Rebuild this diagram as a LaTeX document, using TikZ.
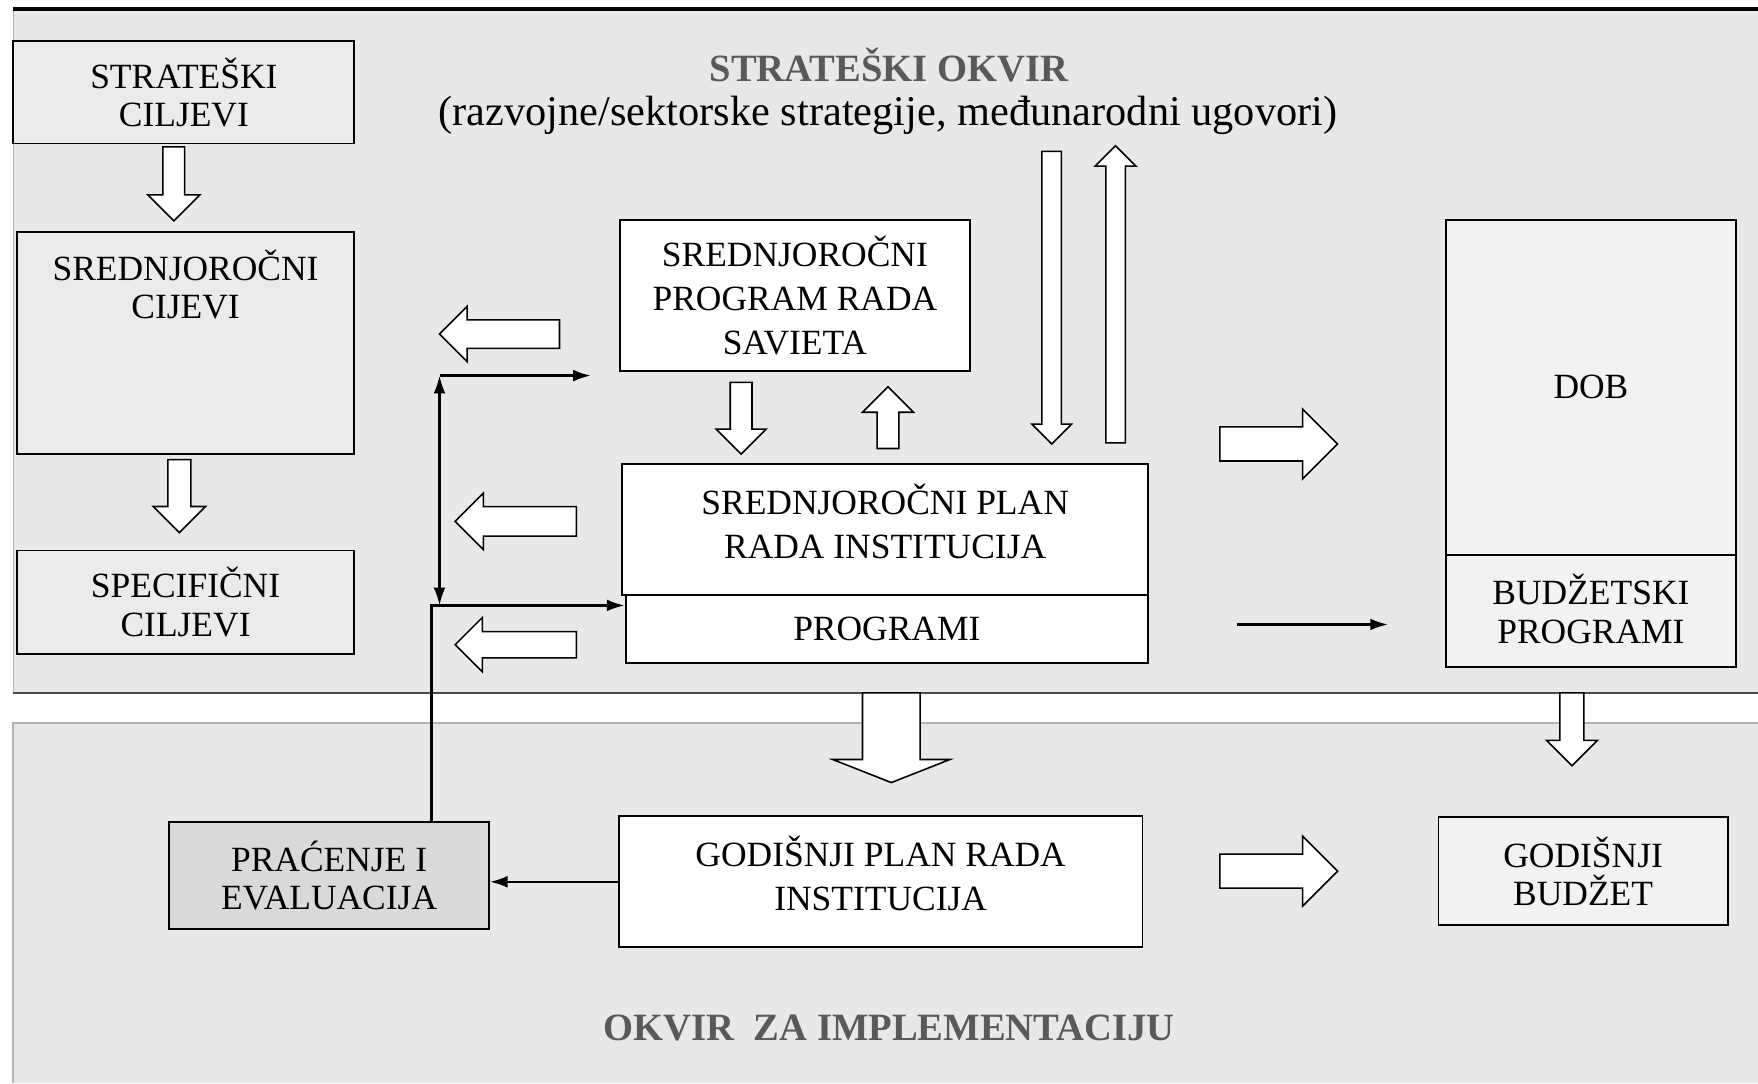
\documentclass[tikz,border=0pt]{standalone}
\usepackage{fontspec}
\setmainfont{Liberation Serif}
\usepackage{tikz}
\usetikzlibrary{shapes.arrows,arrows.meta}
\definecolor{panelgray}{gray}{0.91}
\definecolor{boxgray}{gray}{0.92}
\definecolor{lightbox}{gray}{0.95}
\definecolor{darkbox}{gray}{0.85}
\definecolor{titlegray}{gray}{0.35}
\newcommand{\boxfont}{\fontsize{18}{19.5}\selectfont}
\newcommand{\wboxfont}{\fontsize{18}{22.5}\selectfont}
\newcommand{\titlefont}{\fontsize{19.6}{22}\selectfont\bfseries}
\newcommand{\subfont}{\fontsize{21.5}{24}\selectfont}
\tikzset{
  box/.style={draw=black, line width=1pt, inner sep=0pt, align=center, font=\boxfont},
  wbox/.style={box, fill=white, font=\wboxfont},
  bw/.style={minimum width={#1*0.2mm}},
  bh/.style={minimum height={#1*0.2mm}},
  hollow/.style n args={3}{single arrow, draw=black, fill=white, line width=0.8pt,
    inner xsep=0pt, inner ysep={#1*0.1mm}, single arrow head extend={(#2-#1)*0.1mm},
    minimum height={#3*0.2mm}, outer sep=0pt, anchor=tip},
  fbline/.style={line width=1.2pt},
}

\begin{document}
\begin{tikzpicture}[x=0.2mm, y=-0.2mm, >={Latex[length=9pt,width=6pt]}]
        \useasboundingbox (0,0) rectangle (1568,966);

        % panels
        \fill[panelgray] (12,8) rectangle (1568,618);
        \fill[panelgray] (12,645) rectangle (1568,966);
        \draw[gray!60] (12,8) -- (12,618);
        \draw[black!70, line width=1.1pt] (12,618) -- (1568,618);
        \draw[black, line width=1.7pt] (12,8) -- (1568,8);
        \draw[gray!60, line width=1pt] (1568,645) -- (12,645) -- (12,966);

        \node[font=\titlefont, text=titlegray, inner sep=0pt] (strokvir) at (793,58) {STRATEŠKI OKVIR};
        \node[font=\subfont, inner sep=0pt] (strsub) at (792,103) {(razvojne/sektorske strategije, međunarodni ugovori)};
        \node[font=\titlefont, text=titlegray, inner sep=0pt] (implokvir) at (793,917) {OKVIR\ \ ZA IMPLEMENTACIJU};

        % boxes
        \node[box, fill=boxgray, bw=304, bh=91] (stratcilj) at (164,82.5) {STRATEŠKI\\CILJEVI};
        \node[box, fill=boxgray, bw=301, bh=198] (srcilj) at (165.5,306) {};
        \node[font=\boxfont, align=center] (srciljtxt) at (165.5,254) {SREDNJOROČNI\\CIJEVI};
        \node[box, fill=boxgray, bw=301, bh=92] (speccilj) at (165.5,537) {SPECIFIČNI\\CILJEVI};
        \node[wbox, bw=312, bh=135] (savjet) at (709,263.5) {SREDNJOROČNI\\PROGRAM RADA\\SAVIETA};
        \node[wbox, bw=469, bh=117] (plan) at (789.5,472.5) {};
        \node[font=\wboxfont, align=center] (plantxt) at (789.5,465) {SREDNJOROČNI PLAN\\RADA INSTITUCIJA};
        \node[wbox, bw=466, bh=60] (programi) at (791,561) {PROGRAMI};
        \node[box, fill=lightbox, bw=258, bh=299] (dob) at (1419,345.5) {DOB};
        \node[box, fill=lightbox, bw=258, bh=100] (budprog) at (1419,545) {};
        \node[font=\boxfont, align=center] (budprogtxt) at (1419,543) {BUDŽETSKI\\PROGRAMI};
        \node[box, fill=darkbox, bw=285, bh=96] (pracenje) at (293.5,781) {PRAĆENJE I\\EVALUACIJA};
        \node[wbox, bw=467, bh=117] (godplan) at (785.5,786.5) {};
        \node[font=\wboxfont, align=center] (godplantxt) at (785.5,779) {GODIŠNJI PLAN RADA\\INSTITUCIJA};
        \node[box, fill=lightbox, bw=258, bh=96] (godbud) at (1412,777) {GODIŠNJI\\BUDŽET};

        % hollow arrows
        \node[hollow={18}{45}{66}, rotate=-90] (arrA) at (155,197) {};
        \node[hollow={19}{45}{65}, rotate=-90] (arrB) at (160,475) {};
        \node[hollow={24}{48}{107}, rotate=180] (arrC) at (392,298) {};
        \node[hollow={25}{49}{108}, rotate=180] (arrD) at (406,465) {};
        \node[hollow={22}{47}{108}, rotate=180] (arrE) at (406,575) {};
        \node[hollow={18}{43}{64}, rotate=-90] (arrF) at (661,405) {};
        \node[hollow={18}{44}{55}, rotate=90] (arrG) at (792,345) {};
        \node[hollow={16}{34}{261}, rotate=-90] (arrH) at (938,396) {};
        \node[hollow={16}{35}{265}, rotate=90] (arrI) at (995,130) {};
        \node[hollow={29}{61}{105}] (arrJ) at (1193,396) {};
        \node[hollow={29}{61}{105}] (arrK) at (1193,777) {};
        \node[hollow={50}{103}{80}, single arrow tip angle=137, rotate=-90] (arrL) at (795,698) {};
        \node[hollow={20}{44}{65}, rotate=-90] (arrM) at (1402,683) {};

        % feedback lines
        \coordinate (fbTop) at (392,335);
        \coordinate (fbBot) at (385,540);
        \coordinate (toSav) at (527,335);
        \coordinate (pbA) at (1103,557);
        \coordinate (pbB) at (1238,557);

        \draw[fbline, <->] (fbTop) -- (fbTop |- fbBot);
        \draw[fbline, ->] (fbTop) -- (toSav);
        \draw[fbline, ->] (pracenje.north -| fbBot) -- (fbBot) -- (fbBot -| programi.west);
        \draw[fbline, ->] (godplan.west) -- (godplan.west -| pracenje.east);
        \draw[fbline, ->] (pbA) -- (pbB);

    \end{tikzpicture}
\end{document}
